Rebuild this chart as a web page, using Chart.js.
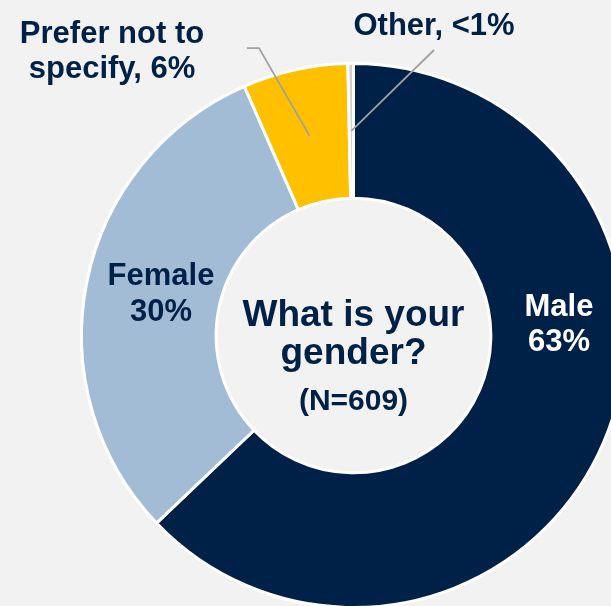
<!DOCTYPE html>
<html>
<head>
<meta charset="utf-8">
<script src="https://cdn.jsdelivr.net/npm/chart.js@4.4.1/dist/chart.umd.min.js"></script>
<style>
  html, body { margin: 0; padding: 0; background: #f2f2f2; overflow: hidden; width: 611px; height: 606px; }
  #wrap { position: absolute; left: 0; top: 0; width: 627px; height: 609px; }
</style>
</head>
<body>
<div id="wrap"><canvas id="genderChart" width="627" height="609"></canvas></div>
<script>
// ── data ─────────────────────────────────────────────────────────────────────
const categories = ['Male', 'Female', 'Prefer not to specify', 'Other'];
const counts = [383, 186, 38, 2]; // N = 609
const sliceLabels = [['Male', '63%'], ['Female', '30%'], ['Prefer not to', 'specify, 6%'], ['Other, <1%']];
const centerLines = ['What is your', 'gender?', '(N=609)'];
const sliceColors = ['#002147', '#a2bcd6', '#ffc000', '#d0d0d0'];

const NAVY = '#002147';
const FONT = '"Liberation Sans", Arial, sans-serif';

// label placement (page pixels); leader lines end at the slice centroid
const labelPlacement = [
  { x: 559, y: [316, 351], color: '#ffffff' },
  { x: 161, y: [285, 321], color: NAVY },
  { x: 112, y: [43, 78], color: NAVY, leader: [[247, 48], [259, 48]] },
  { x: 434, y: [35], color: NAVY, leader: [[434, 50]] },
];

// ── plugins ──────────────────────────────────────────────────────────────────
const labelPlugin = {
  id: 'sliceLabels',
  afterDatasetsDraw(chart) {
    const { ctx } = chart;
    const arcs = chart.getDatasetMeta(0).data;

    // leader lines first
    ctx.save();
    ctx.strokeStyle = '#a0a0a0';
    ctx.lineWidth = 1.75;
    labelPlacement.forEach((p, i) => {
      if (!p.leader) return;
      const c = arcs[i].getCenterPoint();
      ctx.beginPath();
      ctx.moveTo(p.leader[0][0], p.leader[0][1]);
      p.leader.slice(1).forEach((pt) => ctx.lineTo(pt[0], pt[1]));
      ctx.lineTo(c.x, c.y);
      ctx.stroke();
    });
    ctx.restore();

    ctx.save();
    ctx.textAlign = 'center';
    ctx.textBaseline = 'alphabetic';
    ctx.font = 'bold 31px ' + FONT;
    sliceLabels.forEach((lines, i) => {
      const p = labelPlacement[i];
      ctx.fillStyle = p.color;
      lines.forEach((t, j) => ctx.fillText(t, p.x, p.y[j]));
    });

    // centre text
    const cx = arcs[0].x;
    const cy = arcs[0].y;
    ctx.fillStyle = NAVY;
    ctx.font = 'bold 37px ' + FONT;
    ctx.fillText(centerLines[0], cx, cy - 10);
    ctx.fillText(centerLines[1], cx, cy + 28);
    ctx.font = 'bold 30px ' + FONT;
    ctx.fillText(centerLines[2], cx, cy + 74);
    ctx.restore();
  },
};

// ── chart ────────────────────────────────────────────────────────────────────
new Chart(document.getElementById('genderChart'), {
  type: 'doughnut',
  data: {
    labels: categories,
    datasets: [{
      data: counts,
      backgroundColor: sliceColors,
      borderColor: '#ffffff',
      borderWidth: 3,
    }],
  },
  options: {
    responsive: false,
    animation: false,
    cutout: '50.5%',
    layout: { padding: { left: 80, top: 62, right: 0, bottom: 0 } },
    plugins: {
      legend: { display: false },
      tooltip: { enabled: false },
    },
  },
  plugins: [labelPlugin],
});
</script>
</body>
</html>
